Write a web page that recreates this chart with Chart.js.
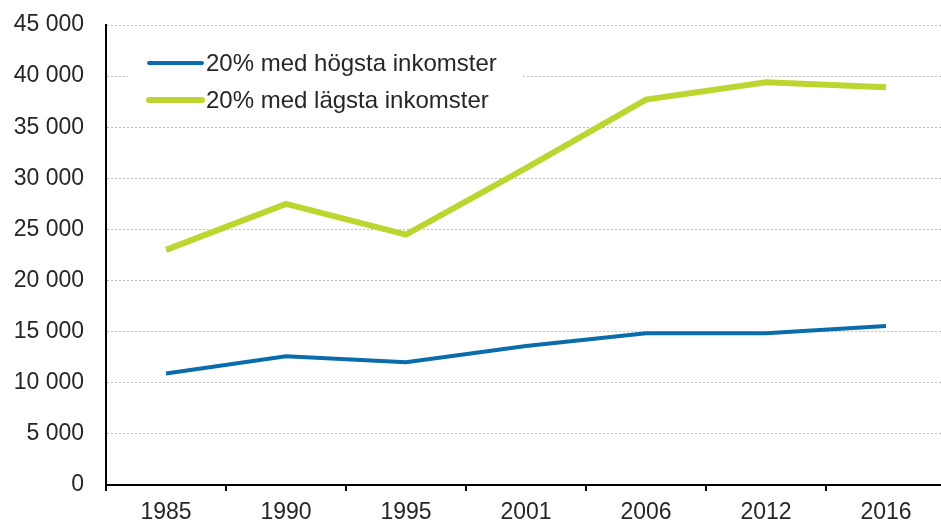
<!DOCTYPE html>
<html>
<head>
<meta charset="utf-8">
<script src="https://cdn.jsdelivr.net/npm/chart.js@4.4.0/dist/chart.umd.min.js"></script>
<style>
  html, body { margin: 0; padding: 0; background: #fff; overflow: hidden; }
  #wrap { width: 946px; height: 525px; }
</style>
</head>
<body>
<div id="wrap"><canvas id="myChart" width="946" height="525"></canvas></div>
<script>
// dades llegides del gràfic
const years = ['1985', '1990', '1995', '2001', '2006', '2012', '2016'];
const hogsta = [10900, 12600, 12000, 13600, 14850, 14850, 15550];
const lagsta = [23000, 27500, 24500, 31000, 37700, 39400, 38900];
const seriesNames = ['20% med högsta inkomster', '20% med lägsta inkomster'];

const fontFam = "'Liberation Sans', Arial, sans-serif";

// llegenda dins de l'àrea del gràfic, amb fons blanc
const innerLegend = {
    id: 'innerLegend',
    afterDatasetsDraw(chart) {
        const ctx = chart.ctx;
        ctx.save();
        ctx.fillStyle = '#fff';
        ctx.fillRect(128, 42, 394, 78);
        chart.data.datasets.forEach((ds, i) => {
            const y = 63 + i * 37;
            ctx.strokeStyle = ds.borderColor;
            ctx.lineWidth = ds.borderWidth;
            ctx.lineCap = 'round';
            ctx.beginPath();
            ctx.moveTo(149, y);
            ctx.lineTo(202, y);
            ctx.stroke();
            ctx.fillStyle = '#262626';
            ctx.font = '24px ' + fontFam;
            ctx.textBaseline = 'middle';
            ctx.fillText(ds.label, 206, y + 1);
        });
        ctx.restore();
    }
};

new Chart(document.getElementById('myChart'), {
    type: 'line',
    data: {
        labels: years,
        datasets: [{
            label: seriesNames[0],
            data: hogsta,
            borderColor: '#0A6CAB',
            borderWidth: 4,
            pointRadius: 0,
            tension: 0
        }, {
            label: seriesNames[1],
            data: lagsta,
            borderColor: '#BDD531',
            borderWidth: 6,
            pointRadius: 0,
            tension: 0
        }]
    },
    options: {
        responsive: false,
        animation: false,
        layout: { padding: { left: 13, top: 25, right: 0, bottom: 0 } },
        plugins: {
            legend: { display: false },
            tooltip: { enabled: false }
        },
        scales: {
            x: {
                offset: true,
                afterFit: function (scale) {
                    scale.height = 40;
                    scale.paddingLeft = 0;
                    scale.paddingRight = 0;
                },
                grid: {
                    offset: true,
                    drawOnChartArea: false,
                    drawTicks: true,
                    tickLength: 6,
                    color: '#000',
                    lineWidth: 2
                },
                border: { color: '#000', width: 2 },
                ticks: {
                    color: '#262626',
                    padding: 10,
                    font: { family: fontFam, size: 23, lineHeight: 1 }
                }
            },
            y: {
                min: 0,
                max: 45000,
                afterFit: function (scale) {
                    scale.width = 93;
                    scale.paddingTop = 0;
                    scale.paddingBottom = 0;
                },
                grid: {
                    drawTicks: false,
                    color: '#BEBEBE',
                    lineWidth: 1
                },
                border: { color: '#000', width: 2, dash: [2, 2] },
                ticks: {
                    stepSize: 5000,
                    color: '#262626',
                    padding: 22,
                    font: { family: fontFam, size: 23, lineHeight: 1 },
                    // format amb espai com a separador de milers
                    callback: function (value) {
                        return String(value).replace(/\B(?=(\d{3})+(?!\d))/g, ' ');
                    }
                }
            }
        }
    },
    plugins: [innerLegend]
});
</script>
</body>
</html>
